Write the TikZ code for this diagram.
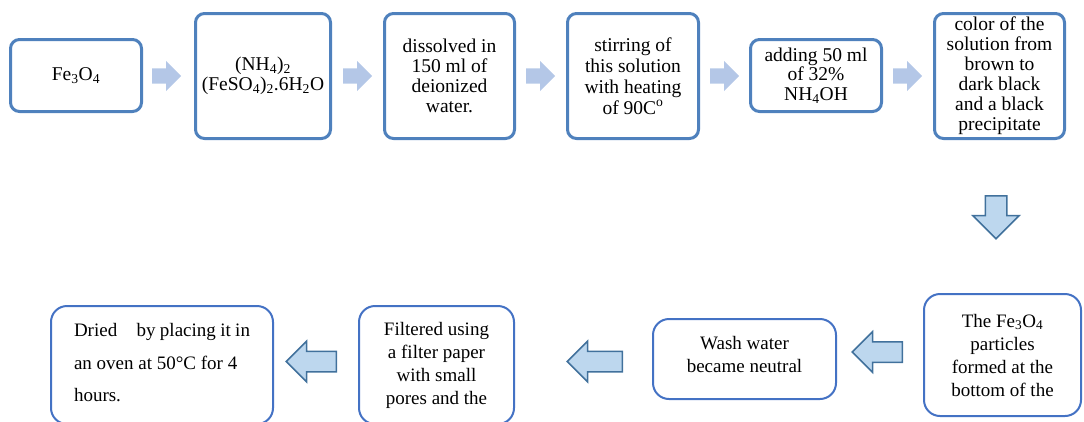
\documentclass[tikz,border=0pt]{standalone}
\usepackage{fontspec}
\setmainfont{Liberation Serif}
\usetikzlibrary{shapes, arrows, positioning}
\definecolor{topline}{RGB}{79,129,189}
\definecolor{lowline}{RGB}{68,114,196}
\definecolor{flatfill}{RGB}{180,199,231}
\definecolor{backfill}{RGB}{189,215,238}
\definecolor{backline}{RGB}{65,113,156}

\begin{document}
\begin{tikzpicture}[x=1pt, y=-1pt,
    topbox/.style={draw=topline, line width=3pt, rounded corners=9pt, align=center, inner sep=0pt, font=\fontsize{19.5}{20}\selectfont},
    lowbox/.style={draw=lowline, line width=2pt, rounded corners=16pt, align=center, inner sep=0pt, font=\fontsize{19}{23}\selectfont},
    flatarrow/.style={single arrow, fill=flatfill, draw=none, inner sep=7.5pt, single arrow head extend=7.5pt, single arrow head indent=0pt, minimum height=29pt, anchor=tail},
    backarrow/.style={single arrow, fill=backfill, draw=backline, line width=1.5pt, inner sep=9.5pt, single arrow head extend=10pt, single arrow head indent=0pt, shape border rotate=180, anchor=tail}]
    \useasboundingbox (0,0) rectangle (1084,421);
    \clip (0,0) rectangle (1084,421);

    \node [topbox, minimum width=131pt, minimum height=72pt] (magnetite) at (76, 75.5) {Fe\textsubscript{3}O\textsubscript{4}};
    \node [topbox, minimum width=135pt, minimum height=125pt] (salt) at (263, 76) {(NH\textsubscript{4})\textsubscript{2}\\(FeSO\textsubscript{4})\textsubscript{2}.6H\textsubscript{2}O};
    \node [topbox, minimum width=130pt, minimum height=125pt] (dissolve) at (449.5, 76) {dissolved in\\150 ml of\\deionized\\water.};
    \node [topbox, minimum width=131pt, minimum height=125pt, font=\fontsize{19.5}{21}\selectfont] (stir) at (633, 76) {stirring of\\this solution\\with heating\\of 90C\textsuperscript{o}};
    \node [topbox, minimum width=131pt, minimum height=72pt, font=\fontsize{19.5}{19.5}\selectfont] (ammonia) at (816, 75.5) {adding 50 ml\\of 32\%\\NH\textsubscript{4}OH};
    \node [topbox, minimum width=130pt, minimum height=125pt] (colour) at (999.5, 76) {color of the\\solution from\\brown to\\dark black\\and a black\\precipitate};

    \node [flatarrow] (a1) at (152, 76) {};
    \node [flatarrow] (a2) at (343, 76) {};
    \node [flatarrow] (a3) at (526, 76) {};
    \node [flatarrow] (a4) at (710, 76) {};
    \node [flatarrow] (a5) at (893, 76) {};

    \node [single arrow, fill=backfill, draw=backline, line width=1.5pt, inner sep=10pt, single arrow head extend=12.5pt, single arrow head indent=0pt, minimum height=43pt, shape border rotate=270, anchor=tail] (down) at (996, 195) {};

    \node [lowbox, minimum width=157pt, minimum height=122pt] (bottom) at (1002.5, 355) {The Fe\textsubscript{3}O\textsubscript{4}\\particles\\formed at the\\bottom of the};
    \node [lowbox, minimum width=183pt, minimum height=80pt, text depth=10pt] (wash) at (744.5, 359) {Wash water\\became neutral};
    \node [lowbox, minimum width=155pt, minimum height=118pt] (filter) at (436.5, 365) {Filtered using\\a filter paper\\with small\\pores and the};
    \node [lowbox, minimum width=222pt, minimum height=118pt, font=\fontsize{19}{32.5}\selectfont] (dry) at (162, 365) {\parbox{176pt}{\raggedright Dried\hspace{15pt} by placing it in\\an oven at 50°C for 4\\hours.\par\vspace*{4.5pt}}};

    \node [backarrow, minimum height=50pt] (l1) at (903, 352) {};
    \node [backarrow, minimum height=55pt] (l2) at (623, 361.5) {};
    \node [backarrow, minimum height=50pt] (l3) at (337, 361.5) {};
\end{tikzpicture}
\end{document}
